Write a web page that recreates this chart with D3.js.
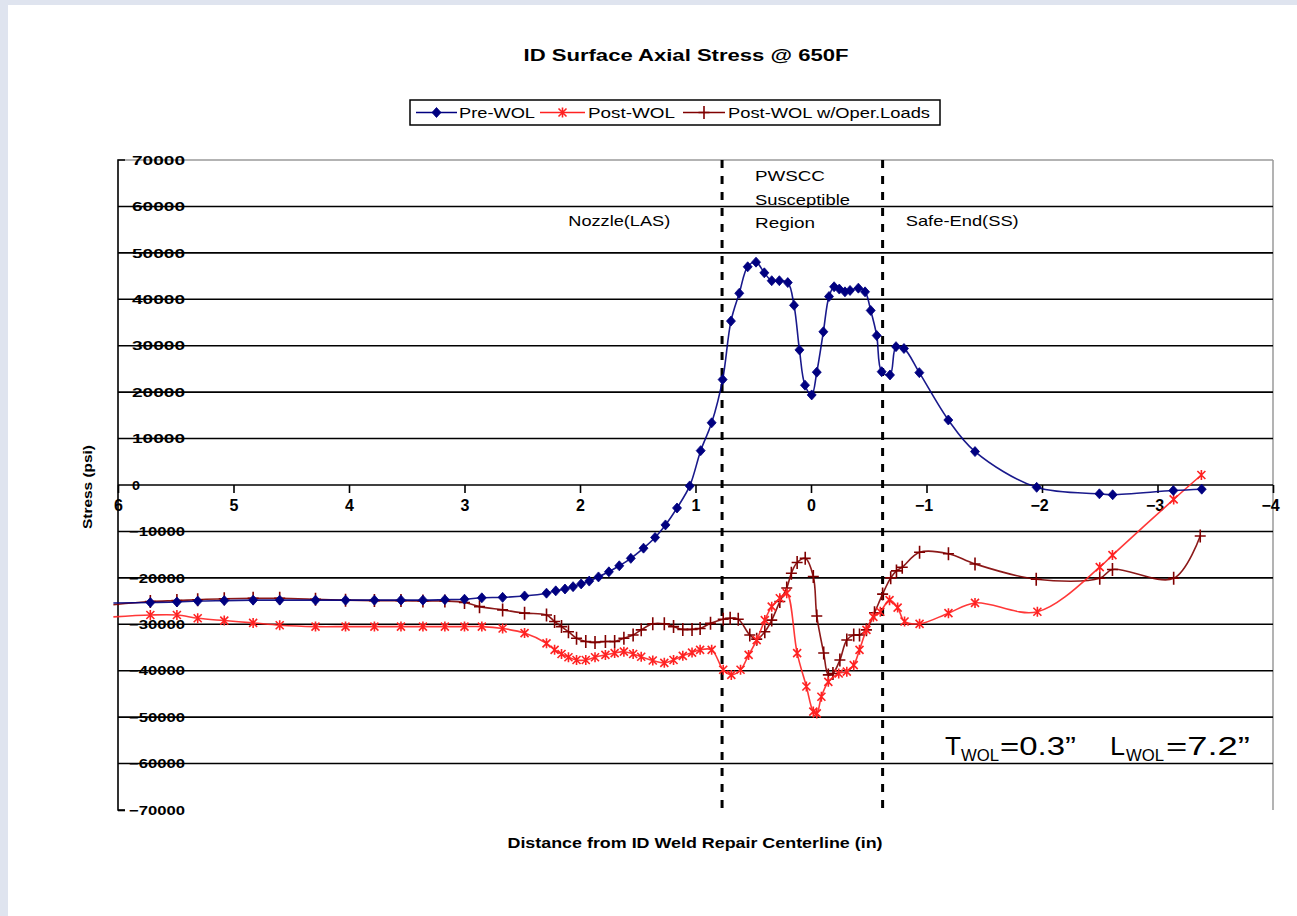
<!DOCTYPE html>
<html><head><meta charset="utf-8">
<script src="https://cdn.jsdelivr.net/npm/d3@7"></script>
<style>
body{margin:0;background:#fff}
svg{display:block}
text{font-family:"Liberation Sans",Arial,sans-serif;fill:#000}
</style>
</head><body>
<svg id="c" width="1297" height="916"></svg>
<script>
// ---------- DATA ----------
const title = "ID Surface Axial Stress @ 650F";
const xTitle = "Distance from ID Weld Repair Centerline (in)";
const yTitle = "Stress (psi)";
const seriesNames = ["Pre-WOL", "Post-WOL", "Post-WOL w/Oper.Loads"];
const xTicks = [6, 5, 4, 3, 2, 1, 0, -1, -2, -3, -4];
const yTicks = [70000, 60000, 50000, 40000, 30000, 20000, 10000, 0, -10000, -20000, -30000, -40000, -50000, -60000, -70000];
const regionBounds = [0.77, -0.62];
const regionLabels = [
  {x: 1.66, y: 55800, anchor: "middle", lines: ["Nozzle(LAS)"], widths: [102]},
  {x: 0.485, y: 65400, anchor: "start", lines: ["PWSCC", "Susceptible", "Region"], widths: [70, 95, 60]},
  {x: -0.82, y: 55800, anchor: "start", lines: ["Safe-End(SS)"], widths: [113]}
];

const preWOL = [
  [6.04,-25400],[5.72,-25300],[5.49,-25200],[5.31,-25000],[5.08,-24900],[4.83,-24800],[4.60,-24800],
  [4.29,-24800],[4.03,-24800],[3.78,-24800],[3.55,-24800],[3.36,-24800],[3.17,-24700],[3.00,-24600],
  [2.85,-24300],[2.67,-24200],[2.48,-23900],[2.29,-23300],[2.21,-22800],[2.13,-22400],[2.06,-21900],
  [1.99,-21300],[1.92,-20700],[1.84,-19800],[1.75,-18700],[1.66,-17400],[1.56,-15800],[1.45,-13600],
  [1.35,-11300],[1.26,-8600],[1.16,-4950],[1.05,-200],[0.955,7400],[0.86,13400],[0.765,22700],
  [0.693,35300],[0.621,41300],[0.548,47000],[0.476,48000],[0.404,45700],[0.34,44000],[0.274,44000],
  [0.201,43600],[0.147,38700],[0.10,29100],[0.052,21500],[-0.006,19400],[-0.05,24300],[-0.107,33000],
  [-0.156,40600],[-0.20,42700],[-0.245,42200],[-0.294,41600],[-0.338,41900],[-0.41,42400],[-0.468,41600],
  [-0.517,37600],[-0.569,32200],[-0.612,24400],[-0.684,23700],[-0.736,29800],[-0.805,29400],[-0.938,24200],
  [-1.189,14000],[-1.42,7200],[-1.954,-500],[-2.497,-1900],[-2.612,-2100],[-3.137,-1200],[-3.383,-900]
];

const postWOL = [
  [6.04,-28400],[5.72,-28000],[5.49,-28000],[5.31,-28700],[5.08,-29200],[4.83,-29700],[4.60,-30200],
  [4.29,-30500],[4.03,-30500],[3.78,-30500],[3.55,-30500],[3.36,-30500],[3.17,-30500],[3.00,-30500],
  [2.85,-30500],[2.67,-30900],[2.48,-31900],[2.29,-34100],[2.22,-35500],[2.16,-36400],[2.10,-37100],
  [2.03,-37700],[1.95,-37700],[1.87,-37100],[1.78,-36600],[1.70,-36200],[1.62,-35900],[1.54,-36400],
  [1.47,-37000],[1.37,-37800],[1.27,-38300],[1.19,-37700],[1.11,-36800],[1.03,-36100],[0.96,-35500],
  [0.86,-35500],[0.76,-39800],[0.69,-40900],[0.61,-39800],[0.54,-36600],[0.47,-33400],[0.40,-29100],
  [0.34,-26200],[0.27,-24400],[0.21,-23300],[0.12,-36200],[0.04,-43400],[-0.02,-48800],[-0.05,-49200],
  [-0.09,-45600],[-0.15,-42400],[-0.24,-40600],[-0.31,-40200],[-0.37,-38800],[-0.42,-35500],[-0.48,-31200],
  [-0.54,-28400],[-0.60,-27300],[-0.68,-24800],[-0.75,-26400],[-0.81,-29400],[-0.94,-29900],[-1.19,-27600],
  [-1.42,-25400],[-1.96,-27300],[-2.50,-17700],[-2.61,-15100],[-3.14,-3100],[-3.38,2150]
];

const postWOLOper = [
  [6.04,-25800],[5.72,-25100],[5.49,-24900],[5.31,-24700],[5.08,-24500],[4.83,-24400],[4.60,-24400],
  [4.29,-24600],[4.03,-24800],[3.78,-24900],[3.55,-24900],[3.36,-25000],[3.17,-25000],[3.00,-25300],
  [2.87,-26200],[2.67,-26900],[2.48,-27600],[2.29,-28000],[2.22,-29400],[2.16,-30500],[2.10,-31600],
  [2.03,-33000],[1.95,-33700],[1.87,-33900],[1.78,-33700],[1.70,-33700],[1.62,-33000],[1.54,-32300],
  [1.47,-31200],[1.37,-29900],[1.27,-29900],[1.19,-30500],[1.11,-31100],[1.03,-31100],[0.96,-30900],
  [0.87,-29800],[0.76,-28900],[0.70,-28700],[0.63,-28900],[0.53,-32300],[0.47,-33200],[0.40,-31600],
  [0.34,-29100],[0.27,-25100],[0.21,-22200],[0.17,-19000],[0.12,-16700],[0.05,-15800],[-0.02,-19700],
  [-0.05,-28200],[-0.11,-36200],[-0.15,-40900],[-0.19,-40600],[-0.25,-37700],[-0.31,-33400],[-0.37,-32300],
  [-0.42,-32300],[-0.48,-31200],[-0.55,-27500],[-0.62,-23500],[-0.69,-20000],[-0.74,-18500],[-0.79,-17700],
  [-0.94,-14500],[-1.19,-14800],[-1.42,-17000],[-1.95,-20300],[-2.50,-20100],[-2.61,-18200],[-3.14,-20100],
  [-3.37,-11000]
];

// ---------- LAYOUT ----------
const svg = d3.select("#c");
const W = 1297, H = 916;
const plot = {left: 118, right: 1273, top: 160, bottom: 810};

svg.append("rect").attr("width", W).attr("height", H).attr("fill", "#dfe4ef");
svg.append("rect").attr("x", 8).attr("y", 5).attr("width", W - 8).attr("height", H - 5).attr("fill", "#fff");

const x = d3.scaleLinear().domain([6, -4]).range([plot.left, plot.right]);
const y = d3.scaleLinear().domain([70000, -70000]).range([plot.top, plot.bottom]);

svg.append("defs").append("clipPath").attr("id", "pc")
  .append("rect").attr("x", plot.left).attr("y", plot.top - 6)
  .attr("width", plot.right - plot.left + 6).attr("height", plot.bottom - plot.top + 12);

// plot border (light grey) top & right
svg.append("line").attr("x1", plot.left).attr("x2", plot.right).attr("y1", y(70000)).attr("y2", y(70000))
  .attr("stroke", "#9a9a9a").attr("stroke-width", 1.5);
svg.append("line").attr("x1", plot.right).attr("x2", plot.right).attr("y1", plot.top).attr("y2", plot.bottom)
  .attr("stroke", "#9a9a9a").attr("stroke-width", 1.5);

// y tick labels (drawn beneath gridlines)
svg.append("g").selectAll("text").data(yTicks).join("text")
  .attr("x", d => d < 0 ? 129 : 132).attr("y", d => y(d)).attr("dy", "0.36em")
  .attr("font-size", 13).attr("font-weight", "bold")
  .attr("textLength", d => (d < 0 ? 56 : (d === 0 ? 8 : 53)))
  .attr("lengthAdjust", "spacingAndGlyphs")
  .text(d => d3.format("d")(d));

// horizontal gridlines
svg.append("g").selectAll("line").data(yTicks.filter(d => d < 70000 && d > -70000)).join("line")
  .attr("x1", plot.left).attr("x2", plot.right)
  .attr("y1", d => y(d)).attr("y2", d => y(d))
  .attr("stroke", "#000").attr("stroke-width", 1.6);

// y axis via d3
const yAxis = d3.axisRight(y).tickValues([-70000]).tickSize(7).tickFormat("");
const yg = svg.append("g").attr("transform", `translate(${plot.left},0)`).call(yAxis);
yg.select(".domain").attr("stroke", "#000").attr("stroke-width", 1.6).attr("d", `M7,${plot.top}H0V${plot.bottom}H7`);
yg.selectAll(".tick line").attr("stroke", "#000").attr("stroke-width", 1.6);

// x axis via d3 at y=0
const xAxis = d3.axisBottom(x).tickValues(xTicks).tickSize(8).tickFormat(d3.format("d"));
const xg = svg.append("g").attr("transform", `translate(0,${y(0)})`).call(xAxis);
xg.select(".domain").remove();
xg.selectAll(".tick line").attr("stroke", "#000").attr("stroke-width", 1.6);
xg.selectAll(".tick text").attr("font-size", 16).attr("font-weight", "bold")
  .attr("font-family", '"Liberation Sans",Arial,sans-serif').attr("fill", "#000")
  .attr("y", 20).attr("dy", "0.36em").attr("dx", d => d < 0 ? -3 : 0);

// region boundaries
svg.append("g").selectAll("line").data(regionBounds).join("line")
  .attr("x1", d => x(d)).attr("x2", d => x(d))
  .attr("y1", plot.top).attr("y2", plot.bottom)
  .attr("stroke", "#000").attr("stroke-width", 3).attr("stroke-dasharray", "8,8");

// region labels
regionLabels.forEach(r => {
  r.lines.forEach((l, i) => {
    svg.append("text").attr("font-size", 15)
      .attr("x", x(r.x)).attr("y", y(r.y) + i * 23.5)
      .attr("text-anchor", r.anchor)
      .attr("textLength", r.widths[i]).attr("lengthAdjust", "spacingAndGlyphs")
      .text(l);
  });
});

// series
const series = [
  {name: seriesNames[0], data: preWOL, color: "#000080", marker: "diamond"},
  {name: seriesNames[1], data: postWOL, color: "#ff2222", marker: "star"},
  {name: seriesNames[2], data: postWOLOper, color: "#800000", marker: "plus"}
];

function drawMarker(g, type, color) {
  if (type === "diamond") {
    g.append("path").attr("d", "M0,-5L4.5,0L0,5L-4.5,0Z").attr("fill", color).attr("stroke", color).attr("stroke-width", 0.8);
  } else if (type === "star") {
    g.append("path").attr("d", "M-4,-4L4,4M-4,4L4,-4M0,-5V5").attr("stroke", color).attr("stroke-width", 1.6).attr("fill", "none");
  } else {
    g.append("path").attr("d", "M-5.5,0H5.5M0,-6.5V6.5").attr("stroke", color).attr("stroke-width", 1.6).attr("fill", "none");
  }
}

const line = d3.line().x(d => x(d[0])).y(d => y(d[1])).curve(d3.curveCatmullRom.alpha(0.5));

// draw in order: post-WOL oper (back), post-WOL, pre-WOL (front)
[series[2], series[1], series[0]].forEach(s => {
  svg.append("path").datum(s.data).attr("d", line)
    .attr("fill", "none").attr("stroke", s.color).attr("stroke-width", 1.6)
    .attr("stroke-opacity", 0.9);
  const mg = svg.append("g").attr("clip-path", "url(#pc)");
  s.data.forEach(d => {
    const g = mg.append("g").attr("transform", `translate(${x(d[0])},${y(d[1])})`);
    drawMarker(g, s.marker, s.color);
  });
});

// title
svg.append("text").attr("x", 686).attr("y", 61).attr("text-anchor", "middle")
  .attr("font-size", 16).attr("font-weight", "bold")
  .attr("textLength", 325).attr("lengthAdjust", "spacingAndGlyphs").text(title);

// legend
const lg = svg.append("g");
lg.append("rect").attr("x", 410).attr("y", 100).attr("width", 530).attr("height", 25)
  .attr("fill", "#fff").attr("stroke", "#000").attr("stroke-width", 1.5);
const legendItems = [
  {s: series[0], x0: 416, x1: 457, tx: 459, tw: 76},
  {s: series[1], x0: 540, x1: 585, tx: 588, tw: 87},
  {s: series[2], x0: 683, x1: 725, tx: 728, tw: 202}
];
legendItems.forEach(it => {
  lg.append("line").attr("x1", it.x0).attr("x2", it.x1).attr("y1", 112.5).attr("y2", 112.5)
    .attr("stroke", it.s.color).attr("stroke-width", 1.6);
  const g = lg.append("g").attr("transform", `translate(${(it.x0 + it.x1) / 2},112.5)`);
  drawMarker(g, it.s.marker, it.s.color);
  lg.append("text").attr("x", it.tx).attr("y", 118).attr("font-size", 14)
    .attr("textLength", it.tw).attr("lengthAdjust", "spacingAndGlyphs").text(it.s.name);
});

// axis titles
svg.append("text").attr("transform", "translate(92,487) rotate(-90)").attr("text-anchor", "middle")
  .attr("font-size", 13).attr("font-weight", "bold")
  .attr("textLength", 84).attr("lengthAdjust", "spacingAndGlyphs").text(yTitle);
svg.append("text").attr("x", 695).attr("y", 848).attr("text-anchor", "middle")
  .attr("font-size", 15).attr("font-weight", "bold")
  .attr("textLength", 375).attr("lengthAdjust", "spacingAndGlyphs").text(xTitle);

// T_WOL / L_WOL annotation
const annParts = [
  {t: "T", x: 945, w: 16, big: true},
  {t: "WOL", x: 961, w: 38, big: false},
  {t: "=0.3\u201D", x: 1000, w: 76, big: true},
  {t: "L", x: 1110, w: 15, big: true},
  {t: "WOL", x: 1126, w: 38, big: false},
  {t: "=7.2\u201D", x: 1166, w: 84, big: true}
];
annParts.forEach(p => {
  svg.append("text").attr("x", p.x).attr("y", p.big ? 755 : 761)
    .attr("font-size", p.big ? 25 : 16)
    .attr("textLength", p.w).attr("lengthAdjust", "spacingAndGlyphs").text(p.t);
});
</script>
</body></html>
